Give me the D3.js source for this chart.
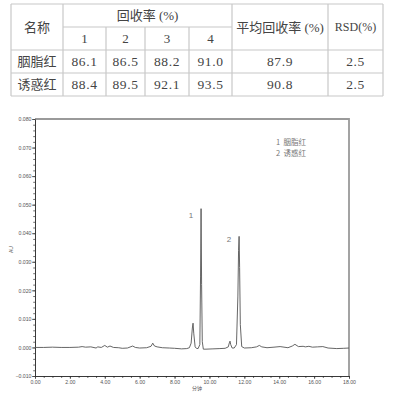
<!DOCTYPE html>
<html>
<head>
<meta charset="utf-8">
<script src="https://cdn.jsdelivr.net/npm/d3@7"></script>
<style>
  body { margin: 0; background: #fff; }
  svg { display: block; }
</style>
</head>
<body>
<div id="chart-container"></div>
<script>
// table data
var names = ["胭脂红", "诱惑红"];
var runLabels = ["1", "2", "3", "4"];
var recovery = [[86.1, 86.5, 88.2, 91.0], [88.4, 89.5, 92.1, 93.5]];
var meanRecovery = [87.9, 90.8];
var rsd = [2.5, 2.5];

// chromatogram data (min, AU)
var traceTime = [0, 0.5, 1.0, 1.5, 2.0, 2.5, 2.7, 2.9, 3.2, 3.5, 3.6, 3.8, 4.0, 4.15, 4.3, 4.5, 4.8, 5.0, 5.3, 5.6, 5.75, 6.0, 6.4, 6.65, 6.75, 6.85, 7.0, 7.3, 7.7, 8.0, 8.4, 8.7, 8.85, 8.95, 9.02, 9.06, 9.10, 9.18, 9.25, 9.35, 9.45, 9.49, 9.52, 9.55, 9.59, 9.65, 9.8, 10.2, 10.6, 10.9, 11.08, 11.14, 11.18, 11.22, 11.3, 11.42, 11.55, 11.63, 11.67, 11.70, 11.73, 11.77, 11.85, 12.0, 12.4, 12.7, 12.86, 13.0, 13.3, 13.7, 14.05, 14.5, 14.75, 14.9, 15.1, 15.37, 15.5, 15.7, 15.9, 16.2, 16.5, 16.8, 17.3, 17.7, 18.0];
var traceAU = [0, 0, 0.0001, 0, 0, 0.0001, 0.0003, 0.0001, 0.0002, -0.0002, 0.0002, 0, 0.0007, 0.0001, 0.0005, 0, -0.0001, -0.0003, -0.0002, 0.0005, 0, -0.0002, -0.0001, 0.0004, 0.0015, 0.0005, 0.0002, -0.0001, -0.0002, -0.0003, -0.0005, -0.0004, -0.0001, 0.0015, 0.0068, 0.0085, 0.005, 0.0002, -0.0003, -0.0004, 0.001, 0.025, 0.0486, 0.022, 0.002, -0.0006, -0.0006, -0.0005, -0.0004, -0.0003, 0.0002, 0.0016, 0.0022, 0.001, -0.0002, -0.0002, 0.001, 0.018, 0.034, 0.0389, 0.028, 0.008, 0.0003, -0.0002, -0.0001, 0.0002, 0.0007, 0.0002, -0.0001, 0.0001, 0.0003, -0.0001, 0.0005, 0.0011, 0.0003, 0.0004, 0.0002, 0.0004, 0.0001, 0.0002, 0.0003, -0.0002, -0.0004, -0.0003, -0.0002];

var peakIds = ["1", "2"];
var peakTimes = [9.52, 11.70];
var peakHeights = [0.0486, 0.0389];
var legendLabels = ["1  胭脂红", "2  诱惑红"];

var yTicks = [-0.01, 0, 0.01, 0.02, 0.03, 0.04, 0.05, 0.06, 0.07, 0.08];
var xTicks = [0, 2, 4, 6, 8, 10, 12, 14, 16, 18];

var svg = d3.select('#chart-container')
    .append('svg')
        .attr('width', 393)
        .attr('height', 396);

// ---------- table ----------
var colEdges = [11, 63, 106, 145, 189, 232, 328, 383];
var rowEdges = [4, 27, 50, 73, 96];
var tableFont = '"Liberation Serif", "Noto Sans CJK SC", serif';
var table = svg.append('g').attr('font-family', tableFont).attr('fill', '#444');
var lineColor = '#c8c8c8';

function hline(x1, x2, y) {
    table.append('line').attr('x1', x1).attr('x2', x2).attr('y1', y).attr('y2', y)
        .attr('stroke', lineColor).attr('stroke-width', 1.2);
}
function vline(x, y1, y2) {
    table.append('line').attr('x1', x).attr('x2', x).attr('y1', y1).attr('y2', y2)
        .attr('stroke', lineColor).attr('stroke-width', 1.2);
}
hline(colEdges[0], colEdges[7], rowEdges[0]);
hline(colEdges[1], colEdges[5], rowEdges[1]);
hline(colEdges[0], colEdges[7], rowEdges[2]);
hline(colEdges[0], colEdges[7], rowEdges[3]);
hline(colEdges[0], colEdges[7], rowEdges[4]);
colEdges.forEach(function (x, i) {
    if (i >= 2 && i <= 4) vline(x, rowEdges[1], rowEdges[4]);
    else vline(x, rowEdges[0], rowEdges[4]);
});

function cell(text, x1, x2, cy, size, spacing) {
    table.append('text')
        .attr('x', (x1 + x2) / 2)
        .attr('y', cy)
        .attr('text-anchor', 'middle')
        .attr('dominant-baseline', 'central')
        .attr('font-size', size)
        .attr('letter-spacing', spacing || 0)
        .text(text);
}
var f1 = d3.format('.1f');
cell('名称', colEdges[0], colEdges[1], (rowEdges[0] + rowEdges[2]) / 2, 13);
cell('回收率 (%)', colEdges[1], colEdges[5], (rowEdges[0] + rowEdges[1]) / 2, 13);
runLabels.forEach(function (r, i) {
    cell(r, colEdges[i + 1], colEdges[i + 2], (rowEdges[1] + rowEdges[2]) / 2, 13);
});
cell('平均回收率 (%)', colEdges[5], colEdges[6], (rowEdges[0] + rowEdges[2]) / 2, 13);
cell('RSD(%)', colEdges[6], colEdges[7], (rowEdges[0] + rowEdges[2]) / 2, 12);
names.forEach(function (n, r) {
    var cy = (rowEdges[r + 2] + rowEdges[r + 3]) / 2;
    cell(n, colEdges[0], colEdges[1], cy, 13);
    recovery[r].forEach(function (v, i) {
        cell(f1(v), colEdges[i + 1], colEdges[i + 2], cy, 13.5, 0.6);
    });
    cell(f1(meanRecovery[r]), colEdges[5], colEdges[6], cy, 13.5, 0.6);
    cell(f1(rsd[r]), colEdges[6], colEdges[7], cy, 13.5, 0.6);
});

// ---------- chromatogram ----------
var plot = { left: 35, right: 349, top: 119, bottom: 376 };

var x = d3.scaleLinear().domain([0, 18]).range([plot.left, plot.right]);
var y = d3.scaleLinear().domain([-0.01, 0.08]).range([plot.bottom, plot.top]);

var chart = svg.append('g').attr('font-family', '"Liberation Sans", Arial, sans-serif');

// frame top / right
chart.append('path')
    .attr('d', 'M' + plot.left + ',' + plot.top + 'H' + plot.right + 'V' + plot.bottom)
    .attr('fill', 'none').attr('stroke', '#9a9a9a').attr('stroke-width', 1.8);

// minor ticks
var yMinor = d3.range(-0.01, 0.0801, 0.002);
var xMinor = d3.range(0, 18.01, 0.5);

chart.append('g')
    .attr('transform', 'translate(' + plot.left + ',0)')
    .call(d3.axisLeft(y).tickValues(yMinor).tickSize(1.8).tickFormat(''))
    .call(function (g) { g.select('.domain').remove(); })
    .selectAll('line').attr('stroke', '#333').attr('stroke-width', 0.7);

chart.append('g')
    .attr('transform', 'translate(0,' + plot.bottom + ')')
    .call(d3.axisBottom(x).tickValues(xMinor).tickSize(2).tickFormat(''))
    .call(function (g) { g.select('.domain').remove(); })
    .selectAll('line').attr('stroke', '#333').attr('stroke-width', 0.7);

var yAxis = chart.append('g')
    .attr('transform', 'translate(' + plot.left + ',0)')
    .call(d3.axisLeft(y).tickValues(yTicks).tickSize(3).tickPadding(0.5).tickSizeOuter(0)
        .tickFormat(d3.format('.3f')));
yAxis.selectAll('text').attr('font-size', 5.2).attr('fill', '#555');
yAxis.selectAll('line').attr('stroke', '#333').attr('stroke-width', 0.7);
yAxis.select('.domain').attr('stroke', '#222').attr('stroke-width', 0.9);

var xAxis = chart.append('g')
    .attr('transform', 'translate(0,' + plot.bottom + ')')
    .call(d3.axisBottom(x).tickValues(xTicks).tickSize(3).tickPadding(1).tickSizeOuter(0)
        .tickFormat(d3.format('.2f')));
xAxis.selectAll('text').attr('font-size', 5.2).attr('fill', '#555');
xAxis.selectAll('line').attr('stroke', '#333').attr('stroke-width', 0.7);
xAxis.select('.domain').attr('stroke', '#222').attr('stroke-width', 0.9);

// axis titles
chart.append('text')
    .attr('transform', 'translate(13,' + ((plot.top + plot.bottom) / 2 + 2) + ') rotate(-90)')
    .attr('text-anchor', 'middle')
    .attr('font-size', 5)
    .attr('fill', '#555')
    .text('AU');
chart.append('text')
    .attr('x', 197).attr('y', 390)
    .attr('text-anchor', 'middle')
    .attr('font-size', 5)
    .attr('font-family', '"Noto Sans CJK SC", sans-serif')
    .attr('fill', '#555')
    .text('分钟');

// trace
var points = traceTime.map(function (t, i) { return [t, traceAU[i]]; });
var line = d3.line()
    .x(function (d) { return x(d[0]); })
    .y(function (d) { return y(d[1]); });

chart.append('path')
    .datum(points)
    .attr('d', line)
    .attr('fill', 'none')
    .attr('stroke', '#555')
    .attr('stroke-width', 0.9)
    .attr('stroke-linejoin', 'round');

// peak labels
peakIds.forEach(function (id, i) {
    chart.append('text')
        .attr('x', x(peakTimes[i]) - 10)
        .attr('y', y(peakHeights[i]) + (i === 0 ? 9 : 6))
        .attr('text-anchor', 'middle')
        .attr('font-size', 8)
        .attr('fill', '#777')
        .text(id);
});

// legend
legendLabels.forEach(function (l, i) {
    chart.append('text')
        .attr('x', 276)
        .attr('y', 145 + i * 11)
        .attr('font-size', 7.5)
        .attr('font-family', '"Noto Sans CJK SC", sans-serif')
        .attr('fill', '#777')
        .attr('xml:space', 'preserve')
        .text(l);
});
</script>
</body>
</html>
